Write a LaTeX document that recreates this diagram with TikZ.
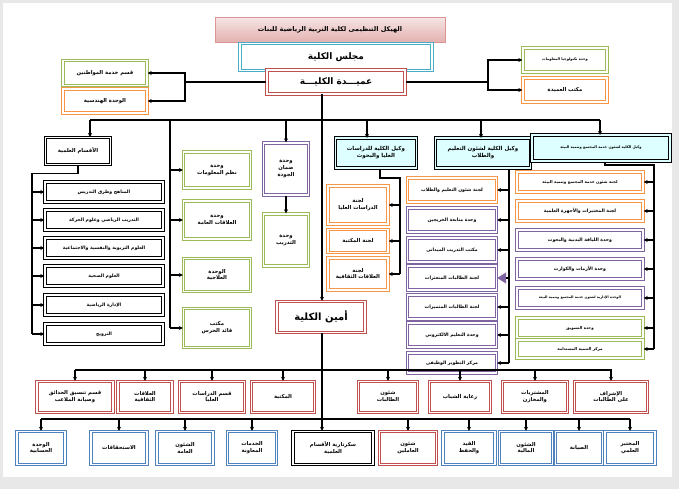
\documentclass[tikz,border=0pt]{standalone}
\usepackage{fontspec}
\usepackage{tikz}
\usetikzlibrary{arrows.meta,positioning,calc}
\newfontfamily\arabicfont[Script=Arabic]{DejaVu Sans}
\TeXXeTstate=1
\newcommand{\artxt}[1]{{\arabicfont\bfseries\beginR #1\endR}}
\definecolor{boxred}{HTML}{C0504D}
\definecolor{boxgreen}{HTML}{9BBB59}
\definecolor{boxorange}{HTML}{F79646}
\definecolor{boxpurple}{HTML}{8064A2}
\definecolor{boxblue}{HTML}{4F81BD}
\definecolor{boxteal}{HTML}{4BACC6}
\definecolor{wakeelfill}{HTML}{DDFFFF}

\begin{document}
\begin{tikzpicture}[x=1pt, y=-1pt,
  box/.style={draw=#1, double=white, double distance=1.1pt, line width=1.4pt,
              fill=white, inner sep=1pt, align=center,
              font=\fontsize{5.3}{6.8}\selectfont},
  wakeel/.style={box=black, double=wakeelfill, fill=wakeelfill, font=\fontsize{5.5}{7}\selectfont},
  ln/.style={line width=1.3pt},
  arr/.style={-{Stealth[length=4pt,width=4pt]}, line width=1.3pt},
  >=Stealth
]
  % background
  \fill[gray!18] (0,0) rectangle (679,489);
  \fill[white] (3,3) rectangle (672,477);

  % Top
  \node[draw=boxred!60, top color=boxred!15, bottom color=boxred!45, minimum width=230pt,
        minimum height=25pt, font=\fontsize{6.5}{8}\selectfont] (title) at (330,30)
    {\artxt{الهيكل التنظيمى لكلية التربية الرياضية للبنات}};
  \node[box=boxteal, minimum width=192pt, minimum height=27pt, font=\fontsize{9}{10}\selectfont] (majlis) at (336,57) {\artxt{مجلس الكلية}};
  \node[box=boxred, minimum width=138pt, minimum height=24pt, font=\fontsize{9}{10}\selectfont] (dean) at (336,82) {\artxt{عميـــدة الكليـــة}};

  \node[box=boxgreen, minimum width=84pt, minimum height=25pt] (citizen) at (105,73) {\artxt{قسم خدمة المواطنين}};
  \node[box=boxorange, minimum width=84pt, minimum height=24pt] (eng) at (105,101) {\artxt{الوحدة الهندسية}};
  \node[box=boxgreen, minimum width=84pt, minimum height=24pt, font=\fontsize{3.6}{4}\selectfont] (itunit) at (565,60) {\artxt{وحدة تكنولوجيا المعلومات}};
  \node[box=boxorange, minimum width=84pt, minimum height=24pt] (deanoff) at (565,90) {\artxt{مكتب العميدة}};

  % Second level
  \node[box=black, minimum width=65pt, minimum height=27pt] (aqsam) at (78,151) {\artxt{الأقسام العلمية}};
  \foreach \n/\y/\t in {d1/192/المناهج وطرق التدريس, d2/220/التدريب الرياضي وعلوم الحركة,
      d3/248/العلوم التربوية والنفسية والاجتماعية, d4/276/العلوم الصحية,
      d5/305/الإدارة الرياضية, d6/334/الترويح}
    \node[box=black, minimum width=118pt, minimum height=20pt, font=\fontsize{4.6}{5}\selectfont] (\n) at (104,\y) {\artxt{\t}};

  \node[box=boxgreen, minimum width=67pt, minimum height=36pt] (u1) at (217,170) {\artxt{وحدة}\\\artxt{نظم المعلومات}};
  \node[box=boxgreen, minimum width=67pt, minimum height=38pt] (u2) at (217,220) {\artxt{وحدة}\\\artxt{العلاقات العامة}};
  \node[box=boxgreen, minimum width=67pt, minimum height=33pt] (u3) at (217,275) {\artxt{الوحدة}\\\artxt{العلاجية}};
  \node[box=boxgreen, minimum width=67pt, minimum height=39pt] (u4) at (217,328) {\artxt{مكتب}\\\artxt{قائد الحرس}};

  \node[box=boxpurple, minimum width=45pt, minimum height=52pt] (quality) at (286,169) {\artxt{وحدة}\\\artxt{ضمان}\\\artxt{الجودة}};
  \node[box=boxgreen, minimum width=45pt, minimum height=52pt] (training) at (286,240) {\artxt{وحدة}\\\artxt{التدريب}};
  \node[box=boxred, minimum width=88pt, minimum height=31pt, font=\fontsize{10}{11}\selectfont] (ameen) at (321,317) {\artxt{أمين الكلية}};

  \node[wakeel, minimum width=81pt, minimum height=30pt] (dirasat) at (376,153) {\artxt{وكيل الكلية للدراسات}\\\artxt{العليا والبحوث}};
  \node[wakeel, minimum width=95pt, minimum height=30pt] (taleem) at (483,153) {\artxt{وكيل الكلية لشئون التعليم}\\\artxt{والطلاب}};
  \node[wakeel, minimum width=138pt, minimum height=26pt, font=\fontsize{3.6}{4}\selectfont] (mogtama) at (601,148) {\artxt{وكيل الكلية لشئون خدمة المجتمع وتنمية البيئة}};

  \node[box=boxorange, minimum width=60pt, minimum height=38pt] (s1) at (358,205) {\artxt{لجنة}\\\artxt{الدراسات العليا}};
  \node[box=boxorange, minimum width=60pt, minimum height=23pt] (s2) at (358,241) {\artxt{لجنة المكتبة}};
  \node[box=boxorange, minimum width=60pt, minimum height=32pt] (s3) at (358,274) {\artxt{لجنة}\\\artxt{العلاقات الثقافية}};

  \foreach \n/\y/\c/\t in {t1/190/boxorange/لجنة شئون التعليم والطلاب, t2/220/boxpurple/وحدة متابعة الخريجين,
      t3/250/boxpurple/مكتب التدريب الميدانى, t4/278/boxpurple/لجنة الطالبات المتعثرات,
      t5/307/boxpurple/لجنة الطالبات المتميزات, t6/335/boxpurple/وحدة التعليم الالكتروني}
    \node[box=\c, minimum width=89pt, minimum height=24pt, font=\fontsize{4.6}{5}\selectfont] (\n) at (452,\y) {\artxt{\t}};
  \node[box=boxpurple, minimum width=89pt, minimum height=20pt, font=\fontsize{4.6}{5}\selectfont] (t7) at (452,363) {\artxt{مركز التطوير الوظيفى}};

  \foreach \n/\y/\c/\f/\t in {m1/182/boxorange/4/لجنة شئون خدمة المجتمع وتنمية البيئة,
      m2/211/boxorange/4.6/لجنة المختبرات والأجهزة العلمية, m3/240/boxpurple/4.6/وحدة اللياقة البدنية والبحوث,
      m4/269/boxpurple/4.6/وحدة الأزمات والكوارث, m5/298/boxpurple/3.4/الوحدة الإدارية لشئون خدمة المجتمع وتنمية البيئة,
      m6/328/boxgreen/4/وحدة التسويق}
    \node[box=\c, minimum width=126pt, minimum height=20pt, font=\fontsize{\f}{5}\selectfont] (\n) at (580,\y) {\artxt{\t}};
  \node[box=boxgreen, minimum width=126pt, minimum height=18pt, font=\fontsize{4}{5}\selectfont] (m7) at (580,349) {\artxt{مركز التنمية المستدامة}};

  % Bottom rows
  \node[box=boxred, minimum width=76pt, minimum height=31pt] (r1) at (75,397) {\artxt{قسم تنسيق الحدائق}\\\artxt{وصيانة الملاعب}};
  \node[box=boxred, minimum width=54pt, minimum height=31pt] (r2) at (145,397) {\artxt{العلاقات}\\\artxt{الثقافية}};
  \node[box=boxred, minimum width=65pt, minimum height=31pt] (r3) at (212,397) {\artxt{قسم الدراسات}\\\artxt{العليا}};
  \node[box=boxred, minimum width=63pt, minimum height=31pt] (r4) at (283,397) {\artxt{المكتبة}};
  \node[box=boxred, minimum width=59pt, minimum height=31pt] (r5) at (388,397) {\artxt{شئون}\\\artxt{الطالبات}};
  \node[box=boxred, minimum width=61pt, minimum height=31pt] (r6) at (460,397) {\artxt{رعاية الشباب}};
  \node[box=boxred, minimum width=65pt, minimum height=31pt] (r7) at (535,397) {\artxt{المشتريات}\\\artxt{والمخازن}};
  \node[box=boxred, minimum width=73pt, minimum height=31pt] (r8) at (611,397) {\artxt{الإشراف}\\\artxt{على الطالبات}};

  \node[box=boxblue, minimum width=48pt, minimum height=33pt] (b1) at (41,448) {\artxt{الوحدة}\\\artxt{الحسابية}};
  \node[box=boxblue, minimum width=56pt, minimum height=33pt] (b2) at (119,448) {\artxt{الاستحقاقات}};
  \node[box=boxblue, minimum width=56pt, minimum height=33pt] (b3) at (185,448) {\artxt{الشئون}\\\artxt{العامة}};
  \node[box=boxblue, minimum width=49pt, minimum height=33pt] (b4) at (252,448) {\artxt{الخدمات}\\\artxt{المعاونة}};
  \node[box=black, minimum width=80pt, minimum height=33pt] (sec) at (333,448) {\artxt{سكرتارية الأقسام}\\\artxt{العلمية}};
  \node[box=boxred, minimum width=57pt, minimum height=33pt] (b6) at (408,448) {\artxt{شئون}\\\artxt{العاملين}};
  \node[box=boxblue, minimum width=52pt, minimum height=33pt] (b7) at (469,448) {\artxt{القيد}\\\artxt{والحفظ}};
  \node[box=boxblue, minimum width=53pt, minimum height=33pt] (b8) at (526,448) {\artxt{الشئون}\\\artxt{المالية}};
  \node[box=boxblue, minimum width=47pt, minimum height=33pt] (b9) at (579,448) {\artxt{الصيانة}};
  \node[box=boxblue, minimum width=50pt, minimum height=33pt] (b10) at (630,448) {\artxt{المختبر}\\\artxt{العلمي}};

  % Connectors
  \coordinate (main) at (322,94);
  \coordinate (lsplit) at (185,82);
  \coordinate (rsplit) at (488,82);
  \draw[ln] (dean.west) -- (lsplit);
  \draw[arr] (lsplit) |- (citizen.east);
  \draw[arr] (lsplit) |- (eng.east);
  \draw[ln] (dean.east) -- (rsplit);
  \draw[arr] (rsplit) |- (itunit.west);
  \draw[arr] (rsplit) |- (deanoff.west);

  \coordinate (bus) at (0,120);
  \draw[arr] (main) -- (ameen.north -| main);
  \draw[arr] (ameen.south -| main) -- (sec.north -| main);
  \draw[ln] (90,120) -- (600,120);
  \draw[arr] (bus -| 90,0) -- (90,137);
  \draw[arr] (bus -| quality) -- (quality.north);
  \draw[arr] (bus -| 367,0) -- (367,138);
  \draw[arr] (bus -| 481,0) -- (481,138);
  \draw[arr] (bus -| 600,0) -- (600,135);
  \draw[arr] (quality) -- (training);

  % left departments
  \draw[ln] (aqsam.south) -- ++(0,8) coordinate (aq) -- (aq -| 32,0) coordinate (aqv) -- (32,334);
  \foreach \n in {d1,d2,d3,d4,d5,d6}
    \draw[arr] (aqv |- \n.west) -- (\n.west);

  % units
  \draw[ln] (bus -| 170,0) coordinate (uv) -- (170,328);
  \foreach \n in {u1,u2,u3,u4}
    \draw[arr] (uv |- \n.west) -- (\n.west);

  % dirasat committees
  \draw[ln] (dirasat.south -| 380,0) -- (380,178) -- (400,178) coordinate (dv) -- (400,274);
  \foreach \n in {s1,s2,s3}
    \draw[arr] (dv |- \n.east) -- (\n.east);

  % taleem units
  \draw[ln] (taleem.south -| 509,0) coordinate (tv) -- (509,363);
  \foreach \n in {t1,t2,t3,t5,t6,t7}
    \draw[arr] (tv |- \n.east) -- (\n.east);
  \draw[line width=1.3pt, -{Triangle[length=9pt,width=11pt,color=boxpurple]}] (tv |- t4.east) -- (t4.east);

  % community units
  \draw[ln] (mogtama.south -| 605,0) -- (605,165) -- (654,165) coordinate (mv) -- (654,349);
  \foreach \n in {m1,m2,m3,m4,m5,m6,m7}
    \draw[arr] (mv |- \n.east) -- (\n.east);

  % bottom buses
  \draw[ln] (75,370) coordinate (bus1) -- (612,370);
  \foreach \n in {r1,r2,r3,r4,r5,r6,r7,r8}
    \draw[arr] (bus1 -| \n.north) -- (\n.north);
  \draw[ln] (41,419) coordinate (bus2) -- (630,419);
  \foreach \n in {b1,b2,b3,b4,b6,b7,b8,b9,b10}
    \draw[arr] (bus2 -| \n.north) -- (\n.north);
\end{tikzpicture}
\end{document}
